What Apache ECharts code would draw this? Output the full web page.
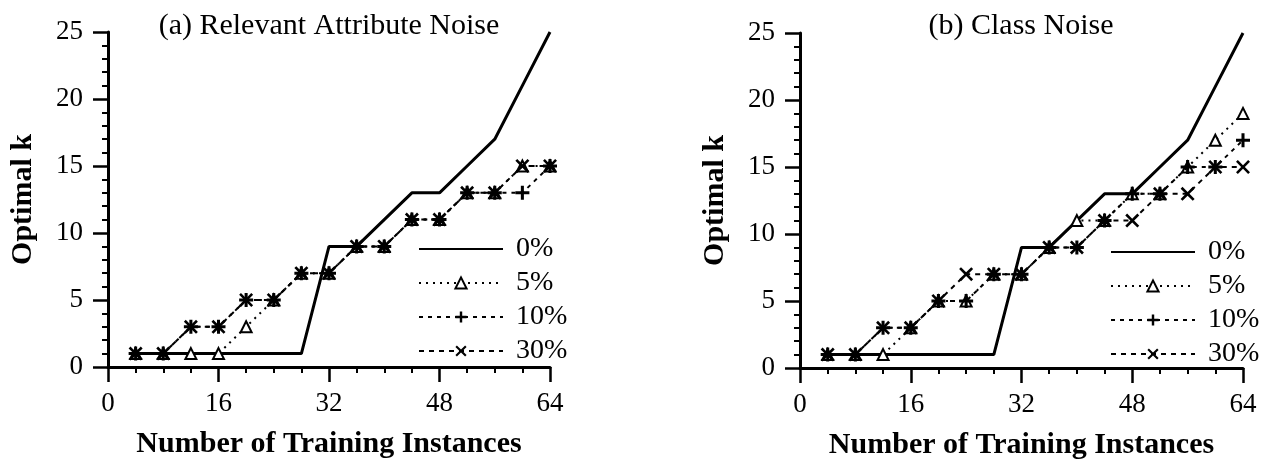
<!DOCTYPE html>
<html>
<head>
<meta charset="utf-8">
<script src="https://cdn.jsdelivr.net/npm/echarts@6/dist/echarts.min.js"></script>
<style>
html,body{margin:0;padding:0;background:#fff;}
#c{width:1261px;height:460px;}
</style>
</head>
<body>
<div id="c"></div>
<script>
// ---- data ----
const trainingInstances = [4, 8, 12, 16, 20, 24, 28, 32, 36, 40, 44, 48, 52, 56, 60, 64];
const xTicks = [0, 16, 32, 48, 64];
const yTicks = [0, 5, 10, 15, 20, 25];
const seriesNames = ['0%', '5%', '10%', '30%'];
const panelTitles = ['(a) Relevant Attribute Noise', '(b) Class Noise'];
const xTitle = 'Number of Training Instances';
const yTitle = 'Optimal k';

// (a) Relevant Attribute Noise
const attr0 = [1, 1, 1, 1, 1, 1, 1, 9, 9, 11, 13, 13, 15, 17, 21, 25];
const attr5 = [1, 1, 1, 1, 3, 5, 7, 7, 9, 9, 11, 11, 13, 13, 15, 15];
const attr10 = [1, 1, 3, 3, 5, 5, 7, 7, 9, 9, 11, 11, 13, 13, 13, 15];
const attr30 = [1, 1, 3, 3, 5, 5, 7, 7, 9, 9, 11, 11, 13, 13, 15, 15];

// (b) Class Noise
const class0 = [1, 1, 1, 1, 1, 1, 1, 9, 9, 11, 13, 13, 15, 17, 21, 25];
const class5 = [1, 1, 1, 3, 5, 5, 7, 7, 9, 11, 11, 13, 13, 15, 17, 19];
const class10 = [1, 1, 3, 3, 5, 5, 7, 7, 9, 9, 11, 13, 13, 15, 15, 17];
const class30 = [1, 1, 3, 3, 5, 7, 7, 7, 9, 9, 11, 11, 13, 13, 15, 15];

// ---- styling ----
const FONT = '"Liberation Serif", "Times New Roman", serif';
const PLUS = 'path://M-1.3,-6 L1.3,-6 L1.3,-1.3 L6,-1.3 L6,1.3 L1.3,1.3 L1.3,6 L-1.3,6 L-1.3,1.3 L-6,1.3 L-6,-1.3 L-1.3,-1.3 Z';
const CROSS = 'path://M-6,-4.4 L-4.4,-6 L0,-1.6 L4.4,-6 L6,-4.4 L1.6,0 L6,4.4 L4.4,6 L0,1.6 L-4.4,6 L-6,4.4 L-1.6,0 Z';

const panels = [
  {grid: {left: 108, right: 711, top: 32, bottom: 93}, data: [attr0, attr5, attr10, attr30], legend: {left: 418, top: 234}},
  {grid: {left: 800, right: 18, top: 33, bottom: 92}, data: [class0, class5, class10, class30], legend: {left: 1110, top: 237}}
];

function pairs(ys) { return trainingInstances.map((x, i) => [x, ys[i]]); }

const styles = [
  {symbol: 'circle', symbolSize: 0, line: {width: 3, type: 'solid'}, item: {color: '#000'}},
  {symbol: 'triangle', symbolSize: 11, line: {width: 2, type: [2, 5]}, item: {color: '#fff', borderColor: '#000', borderWidth: 2}},
  {symbol: PLUS, symbolSize: 14, line: {width: 2, type: [4, 5]}, item: {color: '#000'}},
  {symbol: CROSS, symbolSize: 14, line: {width: 2, type: [5, 5]}, item: {color: '#000'}}
];

const legendData = seriesNames.map((n, i) => i === 0 ? {name: n, itemStyle: {opacity: 0}} : {name: n});

const option = {
  backgroundColor: '#fff',
  animation: false,
  title: panels.map((p, i) => ({
    text: panelTitles[i],
    left: i === 0 ? 329 : 1021,
    textAlign: 'center',
    top: 11,
    padding: 0,
    textStyle: {fontFamily: FONT, fontSize: 30, fontWeight: 'normal', color: '#000'}
  })),
  legend: panels.map((p, i) => ({
    orient: 'vertical',
    left: p.legend.left,
    top: p.legend.top,
    padding: 0,
    itemWidth: 84,
    itemHeight: 14,
    itemGap: 4,
    selectedMode: false,
    data: legendData,
    textStyle: {fontFamily: FONT, fontSize: 28, color: '#000', lineHeight: 30, padding: [0, 0, 0, 8]}
  })),
  grid: panels.map(p => Object.assign({outerBoundsMode: 'none', containLabel: false}, p.grid)),
  xAxis: panels.map((p, i) => ({
    type: 'value', gridIndex: i, min: xTicks[0], max: xTicks[xTicks.length - 1], interval: 16,
    name: xTitle, nameLocation: 'middle', nameGap: 62,
    nameTextStyle: {fontFamily: FONT, fontSize: 30, fontWeight: 'bold', color: '#000'},
    axisLine: {lineStyle: {color: '#000', width: 3}},
    axisTick: {inside: false, length: 15, lineStyle: {color: '#000', width: 2.5}},
    minorTick: {show: true, splitNumber: 4, length: 6, lineStyle: {color: '#000', width: 2}},
    axisLabel: {margin: 23, fontFamily: FONT, fontSize: 27, color: '#000'},
    splitLine: {show: false}
  })),
  yAxis: panels.map((p, i) => ({
    type: 'value', gridIndex: i, min: yTicks[0], max: yTicks[yTicks.length - 1], interval: 5,
    name: yTitle, nameLocation: 'middle', nameGap: 70, nameRotate: 90,
    nameTextStyle: {fontFamily: FONT, fontSize: 30, fontWeight: 'bold', color: '#000'},
    axisLine: {lineStyle: {color: '#000', width: 3}},
    axisTick: {inside: false, length: 15, lineStyle: {color: '#000', width: 2.5}},
    minorTick: {show: true, splitNumber: 5, length: 6, lineStyle: {color: '#000', width: 2}},
    axisLabel: {margin: 25, fontFamily: FONT, fontSize: 27, color: '#000'},
    splitLine: {show: false}
  })),
  series: []
};

panels.forEach((p, pi) => {
  p.data.forEach((ys, si) => {
    const st = styles[si];
    option.series.push({
      name: seriesNames[si],
      type: 'line',
      xAxisIndex: pi,
      yAxisIndex: pi,
      data: pairs(ys),
      symbol: st.symbol,
      symbolSize: st.symbolSize,
      showSymbol: si !== 0,
      lineStyle: {color: '#000', width: st.line.width, type: st.line.type},
      itemStyle: st.item,
      z: si === 0 ? 2 : 3 + si,
      silent: true
    });
  });
});

const chart = echarts.init(document.getElementById('c'), null, {renderer: 'canvas'});
chart.setOption(option);
</script>
</body>
</html>
